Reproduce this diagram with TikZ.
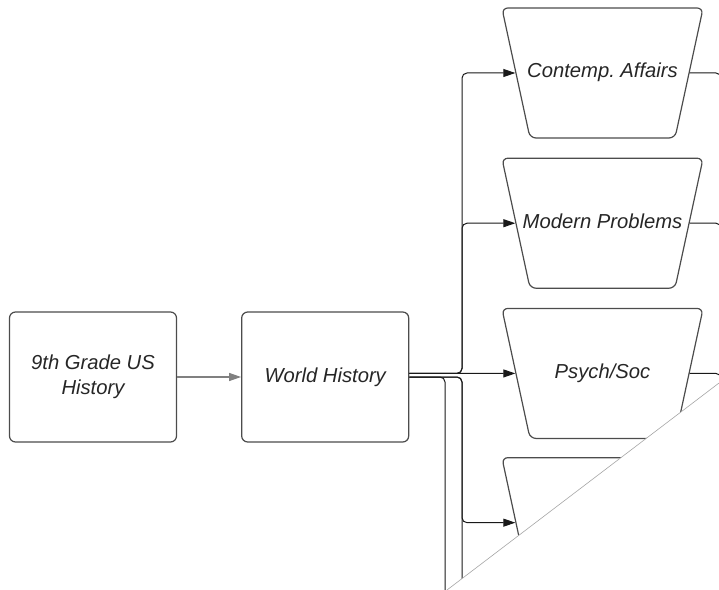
\documentclass[tikz,border=0pt]{standalone}
\usepackage{fontspec}
\setmainfont{Liberation Sans}
\usetikzlibrary{arrows.meta,positioning,shapes.geometric}
\tikzset{every node/.style={font=\fontsize{20.3}{25}\selectfont\itshape}}
\colorlet{boxcol}{black!70}
\colorlet{textcol}{black!85}
\colorlet{linkcol}{black!90}
\colorlet{firstcol}{black!50}
\colorlet{curlcol}{black!35}
% label centred on the narrow side, allowed to run over the slants
\newcommand{\elabel}[1]{\makebox[143bp]{#1}}

\begin{document}
\begin{tikzpicture}[x=1bp, y=-1bp, >={Triangle[length=12bp,width=8bp]},
  course/.style={draw=boxcol, line width=1.2bp, rounded corners=6bp,
    minimum width=167bp, minimum height=130bp, align=center, text=textcol},
  elective/.style={trapezium, shape border rotate=180,
    trapezium angle=77.8, draw=boxcol, line width=1.2bp,
    rounded corners=6bp, inner xsep=1bp, inner ysep=56bp,
    text height=14bp, text depth=4bp, text=textcol},
  link/.style={linkcol, line width=1bp, rounded corners=5bp}]

  \useasboundingbox (0,0) rectangle (719,590);

  \begin{scope}
    \clip (0,0) rectangle (719,590);

    % Core sequence.
    \node[course] (us) at (93,377) {9th Grade US\\History};
    \node[course, right=64bp of us] (wh) {World History};

    % Electives.
    \node[elective] (ca) at (602.5,73) {\elabel{Contemp.\ Affairs}};
    \node[elective, below=19bp of ca] (mp) {\elabel{Modern Problems}};
    \node[elective, below=19bp of mp] (ps) {\elabel{Psych/Soc}};
    \node[elective, below=18bp of ps] (t4) {\elabel{}};

    % Routing points.
    \coordinate (trunk) at (462,377);
    \coordinate (side) at (445,377);
    \coordinate (bottom) at (462,620);
    \coordinate (exit) at (721,620);

    \draw[->, firstcol, line width=1.2bp] (us) -- (wh);

    % World History to the electives.
    \draw[link, ->] (wh.east |- ps) -- (ps);
    \draw[link, ->] (wh.east |- ps) -| (trunk |- ca) -- (ca);
    \draw[link, ->] (wh.east |- ps) -| (trunk |- mp) -- (mp);
    \draw[link, ->] (wh.east) -| (trunk |- t4) -- (t4);
    \draw[link] (wh.east) -| (trunk |- bottom);
    \draw[link] (wh.east) -| (side |- bottom);

    % Links leaving on the right.
    \draw[link] (ca) -| (exit);
    \draw[link] (mp) -| (exit);
    \draw[link] (ps) -| (exit);

    % Page curl.
    \fill[white] (447,590) -- (719,383) -- (719,590) -- cycle;
    \draw[curlcol, line width=0.6bp] (447,590) -- (719,383);
  \end{scope}

\end{tikzpicture}
\end{document}
